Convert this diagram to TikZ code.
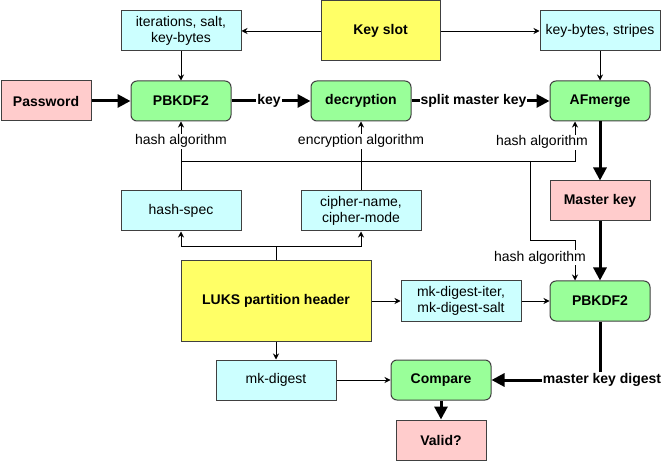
\documentclass[tikz,border=0pt]{standalone}
\usepackage{fontspec}
\setmainfont{Liberation Sans}
\usetikzlibrary{arrows.meta}
\definecolor{pinkbox}{HTML}{FFCCCC}
\definecolor{greenbox}{HTML}{99FF99}
\definecolor{cyanbox}{HTML}{CCFFFF}
\definecolor{yellowbox}{HTML}{FFFF66}
\definecolor{edgegray}{HTML}{404040}
\newcommand{\diagfont}{\fontsize{14}{16.5}\selectfont}
\begin{document}
\begin{tikzpicture}[x=1pt,y=-1pt,
    box/.style={draw=edgegray,line width=1pt,inner sep=0pt,align=center,
      minimum height=40pt,font=\diagfont},
    param/.style={box,fill=cyanbox,minimum width=120pt},
    proc/.style={box,fill=greenbox,rounded corners=6pt,minimum width=100pt,
      font=\diagfont\bfseries},
    result/.style={box,fill=pinkbox,font=\diagfont\bfseries},
    header/.style={box,fill=yellowbox,font=\diagfont\bfseries},
    flow/.style={line width=3pt,-{Triangle[length=13pt,width=13pt]}},
    feed/.style={line width=0.8pt,-{Stealth[length=6pt,width=6pt]}},
    lbl/.style={fill=white,inner sep=1pt,font=\diagfont},
    flowlbl/.style={lbl,font=\diagfont\bfseries}]
  \useasboundingbox (0,0) rectangle (667,465);

  % key slot and its parameters
  \node[header,minimum width=119pt,minimum height=60pt] (keyslot) at (380.5,31) {Key slot};
  \node[param] (iter) at (181,31) {iterations, salt,\\key-bytes};
  \node[param] (stripes) at (600,31) {key-bytes, stripes};

  % top row
  \node[result,minimum width=90pt] (password) at (46,101) {Password};
  \node[proc] (pbkdfa) at (181,101) {PBKDF2};
  \node[proc] (decrypt) at (361,101) {decryption};
  \node[proc] (afmerge) at (600,101) {AFmerge};
  \node[result,minimum width=100pt] (mkey) at (600,201) {Master key};

  % header fields
  \node[param] (hspec) at (181,211) {hash-spec};
  \node[param] (cipher) at (361,211) {cipher-name,\\cipher-mode};
  \node[header,minimum width=190pt,minimum height=80pt] (luks) at (276,301) {LUKS partition header};
  \node[param] (mkiter) at (461,301) {mk-digest-iter,\\mk-digest-salt};
  \node[proc] (pbkdfb) at (600,301) {PBKDF2};
  \node[param] (mkdigest) at (276,380) {mk-digest};
  \node[proc] (compare) at (441,380) {Compare};
  \node[result,minimum width=90pt] (valid) at (441,440) {Valid?};

  \coordinate (hbus) at (181,161);
  \coordinate (hbusb) at (530,161);
  \coordinate (hturn) at (530,240);
  \coordinate (lsplit) at (276,246);

  % thin connectors
  \draw[feed] (keyslot) -- (iter);
  \draw[feed] (keyslot) -- (stripes);
  \draw[feed] (iter) -- (pbkdfa);
  \draw[feed] (stripes) -- (afmerge);
  \draw[feed] (hspec) -- node[lbl,pos=0.714] {hash algorithm} (pbkdfa);
  \draw[feed] (cipher) -- node[lbl,pos=0.714] {encryption algorithm} (decrypt);
  \draw[feed] (hbus) -| node[lbl,pos=0.74,xshift=-33pt] {hash algorithm} ([xshift=-25pt]afmerge.south);
  \draw[feed] (hbusb) -- (hturn) -| node[lbl,pos=0.72,xshift=-35pt] {hash algorithm} ([xshift=-25pt]pbkdfb.north);
  \draw[line width=0.8pt] (luks) -- (lsplit);
  \draw[feed] (lsplit) -| (hspec);
  \draw[feed] (lsplit) -| (cipher);
  \draw[feed] (luks) -- (mkiter);
  \draw[feed] (mkiter) -- (pbkdfb);
  \draw[feed] (luks) -- (mkdigest);
  \draw[feed] (mkdigest) -- (compare);

  % thick data flow
  \draw[flow] (password) -- (pbkdfa);
  \draw[flow] (pbkdfa) -- node[flowlbl,xshift=-2pt] {key} (decrypt);
  \draw[flow] (decrypt) -- node[flowlbl,xshift=-7pt] {split master key} (afmerge);
  \draw[flow] (afmerge) -- (mkey);
  \draw[flow] (mkey) -- (pbkdfb);
  \draw[flow] (pbkdfb) |- node[flowlbl,xshift=2pt] {master key digest} (compare);
  \draw[flow] (compare) -- (valid);
\end{tikzpicture}
\end{document}
